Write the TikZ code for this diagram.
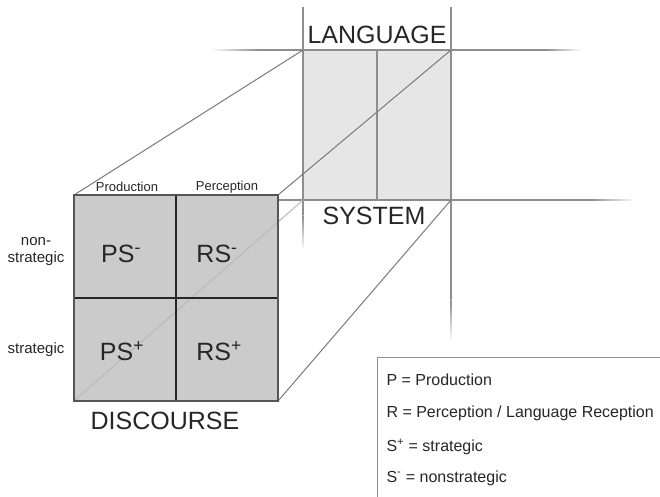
\documentclass[tikz,border=0pt]{standalone}
\usepackage{fontspec}
\setmainfont{Liberation Sans}
\usetikzlibrary{calc}
\definecolor{gridgray}{HTML}{8E8E8E}
\definecolor{linkgray}{HTML}{7A7A7A}
\definecolor{backfill}{HTML}{E6E6E6}
\definecolor{frontfill}{HTML}{CBCBCB}
\definecolor{edgegray}{HTML}{555555}
\definecolor{inkgray}{HTML}{262626}
\newcommand{\fsize}[1]{\fontsize{#1}{#1}\selectfont}
\newcommand{\hfadeL}[3]{\shade[left color=white, right color=gridgray] (#1,#3-0.6) rectangle (#2,#3+0.6);}
\newcommand{\hfadeR}[3]{\shade[left color=gridgray, right color=white] (#1,#3-0.6) rectangle (#2,#3+0.6);}
\newcommand{\vfadeD}[3]{\shade[top color=gridgray, bottom color=white] (#3-0.6,#1) rectangle (#3+0.6,#2);}

\begin{document}
\begin{tikzpicture}[x=1pt, y=-1pt,
    guide/.style={draw=gridgray, line width=1.2},
    link/.style={draw=linkgray, line width=1},
    divider/.style={draw=inkgray, line width=2},
    frontedge/.style={draw=edgegray, line width=2.6},
    bigword/.style={text=inkgray, font=\fsize{25}},
    cellword/.style={text=inkgray, font=\fsize{25}},
    smallword/.style={text=inkgray, font=\fsize{13}},
    rowword/.style={text=inkgray, font=\fontsize{15}{17}\selectfont, align=center},
    keyword/.style={text=inkgray, font=\fsize{16}, anchor=west}]
\useasboundingbox (0,0) rectangle (660,497);
% corners
\coordinate (bTL) at (303,50);
\coordinate (bTR) at (451,50);
\coordinate (bBL) at (303,200);
\coordinate (bBR) at (451,200);
\coordinate (fTL) at (74,195);
\coordinate (fTR) at (278,195);
\coordinate (fBL) at (74,401);
\coordinate (fBR) at (278,401);
% back face
\fill[backfill] (bTL) rectangle (bBR);
\draw[guide] (377,50) -- (377,200);
% guide lines
\draw[guide] (258,50) -- (545,50);
\hfadeL{210}{258}{50}
\hfadeR{545}{582}{50}
\draw[guide] (278,200) -- (592,200);
\hfadeR{592}{635}{200}
\draw[guide] (303,7) -- (303,215);
\vfadeD{215}{250}{303}
\draw[guide] (451,7) -- (451,300);
\vfadeD{300}{342}{451}
% links
\draw[link] (fTL) -- (bTL);
\draw[link] (fTR) -- (bTR);
\draw[link] (fBR) -- (bBR);
% front face
\fill[frontfill] (fTL) rectangle (fBR);
\draw[link, draw=gray!55] (fBL) -- (bBL);
\draw[divider] (176,195) -- (176,401) (74,298) -- (278,298);
\draw[frontedge] (fTL) rectangle (fBR);
% labels
\node[bigword] (language) at (377,35) {LANGUAGE};
\node[bigword] (system) at (374,216) {SYSTEM};
\node[bigword] (discourse) at (165,421) {DISCOURSE};
\node[smallword] (prod) at (127,187) {Production};
\node[smallword] (perc) at (227,187) {Perception};
\node[rowword] (nonstrat) at (36,252) {non-\\strategic};
\node[rowword] (strat) at (36,350) {strategic};
\node[cellword] (psminus) at (121,254) {PS\textsuperscript{-}};
\node[cellword] (rsminus) at (217,254) {RS\textsuperscript{-}};
\node[cellword] (psplus) at (122,351) {PS\textsuperscript{+}};
\node[cellword] (rsplus) at (219,351) {RS\textsuperscript{+}};
% legend
\draw[draw=gridgray, line width=1] (377,357) rectangle (675,510);
\node[keyword] (keyP) at (383,380) {P = Production};
\node[keyword] (keyR) at (383,413) {R = Perception / Language Reception};
\node[keyword] (keySp) at (383,447) {S\textsuperscript{+} = strategic};
\node[keyword] (keySm) at (383,478) {S\textsuperscript{-} = nonstrategic};
\end{tikzpicture}
\end{document}
